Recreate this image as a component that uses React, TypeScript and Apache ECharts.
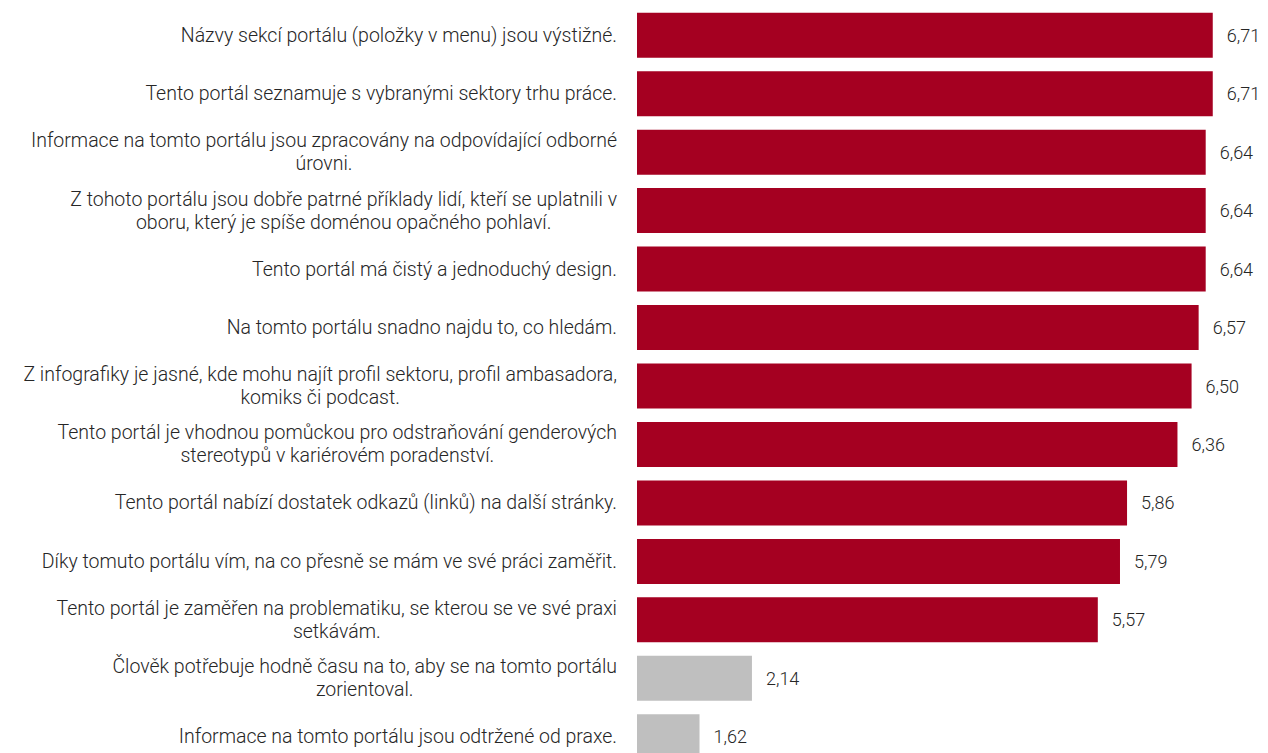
import React, { useEffect, useRef } from "react";
import * as echarts from "echarts";

const categories: string[] = [
  "Názvy sekcí portálu (položky v menu) jsou výstižné.",
  "Tento portál seznamuje s vybranými sektory trhu práce.",
  "Informace na tomto portálu jsou zpracovány na odpovídající odborné\núrovni.",
  "Z tohoto portálu jsou dobře patrné příklady lidí, kteří se uplatnili v\noboru, který je spíše doménou opačného pohlaví.",
  "Tento portál má čistý a jednoduchý design.",
  "Na tomto portálu snadno najdu to, co hledám.",
  "Z infografiky je jasné, kde mohu najít profil sektoru, profil ambasadora,\nkomiks či podcast.",
  "Tento portál je vhodnou pomůckou pro odstraňování genderových\nstereotypů v kariérovém poradenství.",
  "Tento portál nabízí dostatek odkazů (linků) na další stránky.",
  "Díky tomuto portálu vím, na co přesně se mám ve své práci zaměřit.",
  "Tento portál je zaměřen na problematiku, se kterou se ve své praxi\nsetkávám.",
  "Člověk potřebuje hodně času na to, aby se na tomto portálu\nzorientoval.",
  "Informace na tomto portálu jsou odtržené od praxe.",
];

const values: number[] = [6.71, 6.71, 6.64, 6.64, 6.64, 6.57, 6.5, 6.36, 5.86, 5.79, 5.57, 2.14, 1.62];

// true = negatively worded statement (grey bar)
const negative: boolean[] = [false, false, false, false, false, false, false, false, false, false, false, true, true];

const axisMin = 1;
const axisMax = 7;

const RED = "#A50021";
const GREY = "#BFBFBF";
const TEXT = "#262626";
const FONT = "Roboto, sans-serif";

export default function App() {
  const ref = useRef<HTMLDivElement>(null);

  useEffect(() => {
    if (!ref.current) return;
    const chart = echarts.init(ref.current, undefined, { renderer: "svg" });
    chart.setOption({
      animation: false,
      backgroundColor: "#ffffff",
      grid: { left: 637, right: 26, top: 6, height: 760, containLabel: false },
      xAxis: {
        type: "value",
        min: axisMin,
        max: axisMax,
        show: false,
      },
      yAxis: {
        type: "category",
        inverse: true,
        data: categories,
        axisLine: { show: false },
        axisTick: { show: false },
        splitLine: { show: false },
        axisLabel: {
          margin: 20,
          color: TEXT,
          fontFamily: FONT,
          fontSize: 19.5,
          fontWeight: 300,
          lineHeight: 23,
          formatter: (v: string) =>
            v
              .split("\n")
              .map((l) => `{c|${l}}`)
              .join("\n"),
          rich: {
            c: {
              align: "center",
              color: TEXT,
              fontFamily: FONT,
              fontSize: 19.5,
              fontWeight: 300,
              lineHeight: 23,
            },
          },
        },
      },
      series: [
        {
          type: "bar",
          barCategoryGap: "23%",
          data: values.map((v, i) => ({
            value: v,
            itemStyle: { color: negative[i] ? GREY : RED },
          })),
          label: {
            show: true,
            position: "right",
            distance: 14,
            color: TEXT,
            fontFamily: FONT,
            fontSize: 18,
            fontWeight: 300,
            formatter: (p: any) => Number(p.value).toFixed(2).replace(".", ","),
          },
        },
      ],
    });
    return () => chart.dispose();
  }, []);

  return (
    <div
      style={{ position: "fixed", left: 0, top: 0, width: 1268, height: 753, overflow: "hidden", background: "#fff" }}
    >
      <div ref={ref} style={{ width: 1268, height: 800 }} />
    </div>
  );
}
